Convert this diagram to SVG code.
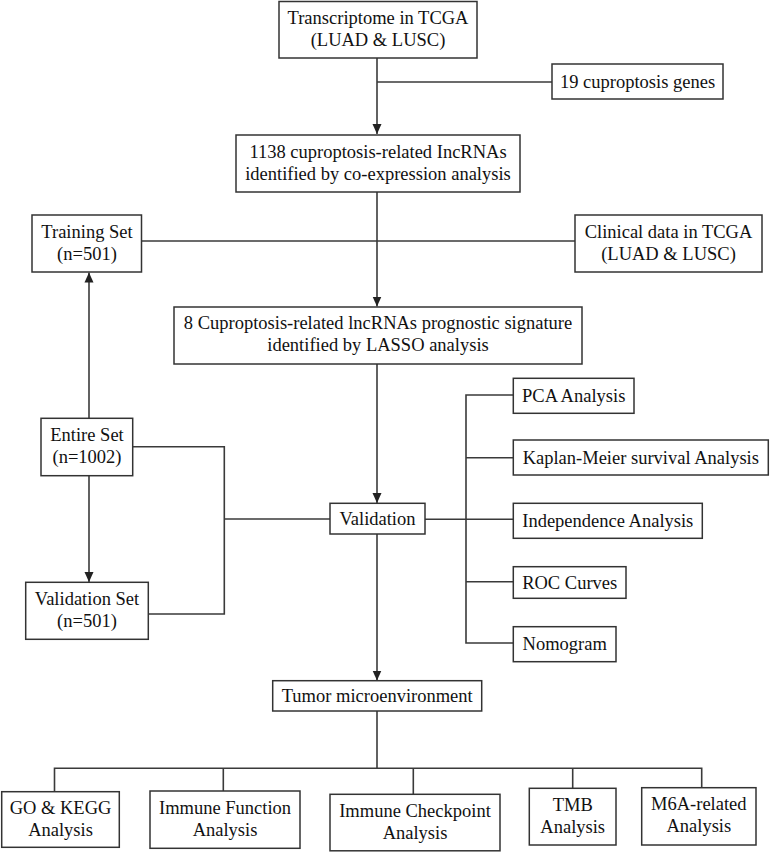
<svg xmlns="http://www.w3.org/2000/svg" width="770" height="852" viewBox="0 0 770 852">
<defs>
<style>
.box{fill:#fff;stroke:#333;stroke-width:1.5}
.t{font-family:"Liberation Serif","Times New Roman",serif;font-size:18.5px;fill:#111;text-anchor:middle}
.c{fill:none;stroke:#3a3a3a;stroke-width:1.6}
</style>
<marker id="ah" markerUnits="userSpaceOnUse" markerWidth="10" markerHeight="10" refX="10" refY="5" orient="auto">
<path d="M0,0.5 L10,5 L0,9.5 z" fill="#222"/>
</marker>
</defs>
<rect width="770" height="852" fill="#fff"/>
<g id="connectors">
<path class="c" d="M377,58 V134" marker-end="url(#ah)"/>
<path class="c" d="M377,82 H552"/>
<path class="c" d="M377,192 V306.5" marker-end="url(#ah)"/>
<path class="c" d="M141.5,241 H575"/>
<path class="c" d="M377,364 V503" marker-end="url(#ah)"/>
<path class="c" d="M89,418 V272.5" marker-end="url(#ah)"/>
<path class="c" d="M89,476 V582" marker-end="url(#ah)"/>
<path class="c" d="M132.7,446.7 H224.3 V614 H148.3"/>
<path class="c" d="M224.3,519 H330"/>
<path class="c" d="M425,519.3 H513.3"/>
<path class="c" d="M513.3,395 H466 V643 H513.3"/>
<path class="c" d="M466,457.7 H513.3"/>
<path class="c" d="M466,581.7 H513.3"/>
<path class="c" d="M377,534 V680.5" marker-end="url(#ah)"/>
<path class="c" d="M377,711 V768.3"/>
<path class="c" d="M54.5,791.7 V768.3 H701.7 V787.7"/>
<path class="c" d="M223.3,768.3 V791"/>
<path class="c" d="M413.3,768.3 V794.3"/>
<path class="c" d="M572.7,768.3 V788.3"/>
</g>
<g id="transcriptome">
<rect class="box" x="279" y="1.5" width="198" height="56.5"/>
<text class="t" x="378" y="23.5">Transcriptome in TCGA</text>
<text class="t" x="378" y="45.5">(LUAD &amp; LUSC)</text>
</g>
<g id="genes">
<rect class="box" x="552" y="64" width="171" height="35"/>
<text class="t" x="637.5" y="87.5">19 cuproptosis genes</text>
</g>
<g id="lncrnas">
<rect class="box" x="236" y="135" width="284" height="57"/>
<text class="t" x="378" y="157.5">1138 cuproptosis-related IncRNAs</text>
<text class="t" x="378" y="179.5">identified by co-expression analysis</text>
</g>
<g id="training">
<rect class="box" x="32" y="215" width="109.5" height="57"/>
<text class="t" x="87" y="237.5">Training Set</text>
<text class="t" x="87" y="259.5">(n=501)</text>
</g>
<g id="clinical">
<rect class="box" x="575" y="215" width="187" height="57"/>
<text class="t" x="668.5" y="237.5">Clinical data in TCGA</text>
<text class="t" x="668.5" y="259.5">(LUAD &amp; LUSC)</text>
</g>
<g id="signature">
<rect class="box" x="174" y="307" width="408" height="57"/>
<text class="t" x="378" y="328.5">8 Cuproptosis-related lncRNAs prognostic signature</text>
<text class="t" x="378" y="350.5">identified by LASSO analysis</text>
</g>
<g id="entire">
<rect class="box" x="41" y="418.3" width="91.7" height="57.4"/>
<text class="t" x="87" y="441">Entire Set</text>
<text class="t" x="87" y="463">(n=1002)</text>
</g>
<g id="validationset">
<rect class="box" x="25.7" y="582.3" width="122.6" height="57"/>
<text class="t" x="87" y="604.5">Validation Set</text>
<text class="t" x="87" y="626.5">(n=501)</text>
</g>
<g id="validation">
<rect class="box" x="330" y="503.3" width="95" height="30.7"/>
<text class="t" x="377.5" y="524.8">Validation</text>
</g>
<g id="pca">
<rect class="box" x="513.3" y="378.3" width="120.7" height="35"/>
<text class="t" x="573.7" y="401.5">PCA Analysis</text>
</g>
<g id="km">
<rect class="box" x="513.3" y="440" width="255" height="35"/>
<text class="t" x="640.8" y="463.5">Kaplan-Meier survival Analysis</text>
</g>
<g id="independence">
<rect class="box" x="513.3" y="503.3" width="189" height="35"/>
<text class="t" x="607.8" y="527">Independence Analysis</text>
</g>
<g id="roc">
<rect class="box" x="513.3" y="566.7" width="112.7" height="31.6"/>
<text class="t" x="569.7" y="588.5">ROC Curves</text>
</g>
<g id="nomogram">
<rect class="box" x="513.3" y="626.7" width="102.7" height="35"/>
<text class="t" x="564.7" y="650">Nomogram</text>
</g>
<g id="tumor">
<rect class="box" x="272.7" y="680.7" width="209" height="30.3"/>
<text class="t" x="377.2" y="702">Tumor microenvironment</text>
</g>
<g id="gokegg">
<rect class="box" x="1.7" y="791.7" width="117.6" height="55.6"/>
<text class="t" x="60.5" y="813.5">GO &amp; KEGG</text>
<text class="t" x="60.5" y="835.5">Analysis</text>
</g>
<g id="immunefunction">
<rect class="box" x="150" y="791" width="150" height="57.3"/>
<text class="t" x="225" y="813.5">Immune Function</text>
<text class="t" x="225" y="835.5">Analysis</text>
</g>
<g id="immunecheckpoint">
<rect class="box" x="330" y="794.3" width="170" height="56.5"/>
<text class="t" x="415" y="816.5">Immune Checkpoint</text>
<text class="t" x="415" y="838.5">Analysis</text>
</g>
<g id="tmb">
<rect class="box" x="529.3" y="788.3" width="86.7" height="56.7"/>
<text class="t" x="572.7" y="810.5">TMB</text>
<text class="t" x="572.7" y="832.5">Analysis</text>
</g>
<g id="m6a">
<rect class="box" x="641.7" y="787.7" width="114.3" height="57.3"/>
<text class="t" x="698.8" y="810">M6A-related</text>
<text class="t" x="698.8" y="832">Analysis</text>
</g>
</svg>
